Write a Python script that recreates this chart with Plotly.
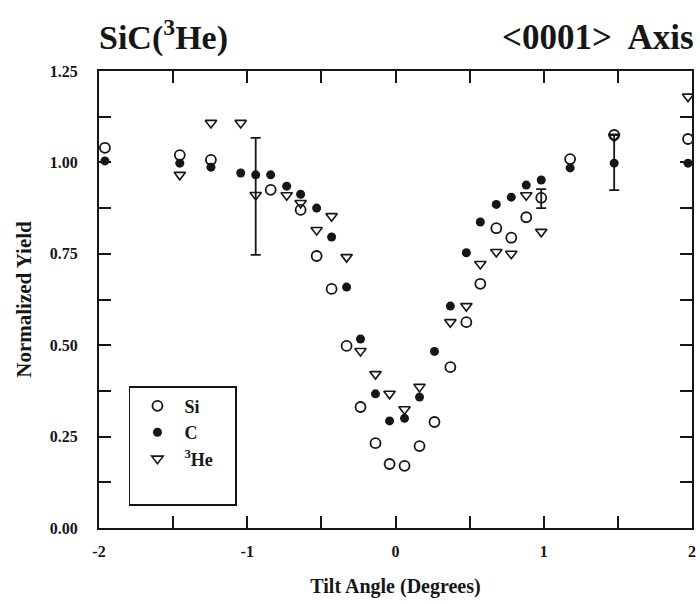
import plotly.graph_objects as go

# ---- data ----
si_x = [-1.96, -1.455, -1.245, -0.842, -0.64, -0.532, -0.431, -0.33, -0.236, -0.135,
        -0.04, 0.061, 0.162, 0.263, 0.37, 0.478, 0.572, 0.68, 0.781, 0.882, 0.983,
        1.178, 1.475, 1.973]
si_y = [1.04, 1.02, 1.007, 0.925, 0.87, 0.744, 0.654, 0.498, 0.331, 0.232,
        0.175, 0.17, 0.224, 0.29, 0.44, 0.563, 0.668, 0.82, 0.794, 0.85, 0.903,
        1.009, 1.075, 1.064]

c_x = [-1.96, -1.455, -1.245, -1.044, -0.943, -0.842, -0.734, -0.64, -0.532, -0.431,
       -0.33, -0.236, -0.135, -0.04, 0.061, 0.162, 0.263, 0.37, 0.478, 0.572, 0.68,
       0.781, 0.882, 0.983, 1.178, 1.475, 1.973]
c_y = [1.004, 0.998, 0.987, 0.971, 0.966, 0.966, 0.935, 0.913, 0.875, 0.796,
       0.659, 0.517, 0.367, 0.293, 0.30, 0.358, 0.483, 0.607, 0.753, 0.837, 0.885,
       0.905, 0.938, 0.952, 0.985, 0.998, 0.998]

he_x = [-1.455, -1.245, -1.044, -0.943, -0.734, -0.64, -0.532, -0.431, -0.33, -0.236,
        -0.135, -0.04, 0.061, 0.162, 0.37, 0.478, 0.572, 0.68, 0.781, 0.882, 0.983,
        1.475, 1.973]
he_y = [0.966, 1.108, 1.108, 0.911, 0.91, 0.889, 0.815, 0.853, 0.741, 0.484,
        0.421, 0.367, 0.325, 0.386, 0.563, 0.607, 0.722, 0.755, 0.75, 0.91, 0.81,
        1.07, 1.18]

# error bars (point, upper end, lower end)
err_x = [-0.943, 0.983, 1.475]
err_y = [0.911, 0.903, 0.998]
err_hi = [1.067, 0.927, 1.075]
err_lo = [0.747, 0.875, 0.924]

x_tickvals = [-2, -1.5, -1, -0.5, 0, 0.5, 1, 1.5, 2]
x_ticktext = ["-2", " ", "-1", " ", "0", " ", "1", " ", "2"]
y_tickvals = [0, 0.125, 0.25, 0.375, 0.5, 0.625, 0.75, 0.875, 1.0, 1.125, 1.25]
y_ticktext = ["0.00", " ", "0.25", " ", "0.50", " ", "0.75", " ", "1.00", " ", "1.25"]

INK = "#161616"
SERIF = "Liberation Serif, Times New Roman, serif"

fig = go.Figure()

fig.add_trace(go.Scatter(
    x=err_x, y=err_y, mode="markers", showlegend=False, hoverinfo="skip",
    marker=dict(size=2, color="rgba(0,0,0,0)"),
    error_y=dict(type="data", symmetric=False,
                 array=[h - v for h, v in zip(err_hi, err_y)],
                 arrayminus=[v - l for l, v in zip(err_lo, err_y)],
                 color=INK, thickness=1.8, width=5),
))

fig.add_trace(go.Scatter(
    x=si_x, y=si_y, mode="markers", name="Si", legendgroup="si",
    marker=dict(symbol="circle-open", size=10, color=INK, line=dict(width=1.8, color=INK)),
))
fig.add_trace(go.Scatter(
    x=c_x, y=c_y, mode="markers", name="C", legendgroup="c",
    marker=dict(symbol="circle", size=9, color=INK, line=dict(width=0)),
))
fig.add_trace(go.Scatter(
    x=he_x, y=he_y, mode="markers", name="<sup>3</sup>He", legendgroup="he",
    marker=dict(symbol="triangle-down-open", size=10, color=INK, line=dict(width=1.6, color=INK)),
))
# blank legend row (the reference legend box has empty space under the last entry)
fig.add_trace(go.Scatter(
    x=[None], y=[None], mode="markers", name="\u00a0" * 10, legendgroup="zz",
    marker=dict(size=1, color="rgba(0,0,0,0)"), hoverinfo="skip",
))

axis_common = dict(
    showline=True, linecolor=INK, linewidth=2, mirror="ticks",
    ticks="inside", ticklen=12, tickwidth=1.8, tickcolor=INK,
    showgrid=False, zeroline=False,
    tickfont=dict(family=SERIF, size=16, color=INK, weight="bold"),
)

fig.update_xaxes(range=[-2, 2], tickvals=x_tickvals, ticktext=x_ticktext,
                 ticklabelstandoff=8,
                 title=dict(text="<b>Tilt Angle (Degrees)</b>", standoff=20,
                            font=dict(family=SERIF, size=20, color=INK)),
                 **axis_common)
fig.update_yaxes(range=[0, 1.25], tickvals=y_tickvals, ticktext=y_ticktext,
                 ticklabelstandoff=16,
                 title=dict(text="<b>Normalized Yield</b>", standoff=12,
                            font=dict(family=SERIF, size=21, color=INK)),
                 **axis_common)

fig.update_layout(
    width=700, height=604,
    margin=dict(l=99, r=4, t=71, b=76),
    paper_bgcolor="white", plot_bgcolor="white",
    font=dict(family=SERIF, color=INK, size=14),
    legend=dict(
        x=0.05, y=0.311, xanchor="left", yanchor="top",
        bordercolor=INK, borderwidth=1.8, bgcolor="white",
        font=dict(family=SERIF, size=18, color=INK, weight="bold"),
        tracegroupgap=0, traceorder="grouped",
        itemwidth=44,
    ),
    annotations=[
        dict(text="<b>SiC(<sup>3</sup>He)</b>", xref="paper", yref="paper",
             x=-0.003, y=1.0, xanchor="left", yanchor="bottom", yshift=12,
             showarrow=False, font=dict(family=SERIF, size=34, color=INK)),
        dict(text="<b>&lt;0001&gt;  Axis</b>", xref="paper", yref="paper",
             x=1.006, y=1.0, xanchor="right", yanchor="bottom", yshift=12,
             showarrow=False, font=dict(family=SERIF, size=35, color=INK)),
    ],
)

fig.write_html("out.html", config={"displayModeBar": False},
               post_script="document.body.style.margin='0';document.body.style.overflow='hidden';")
